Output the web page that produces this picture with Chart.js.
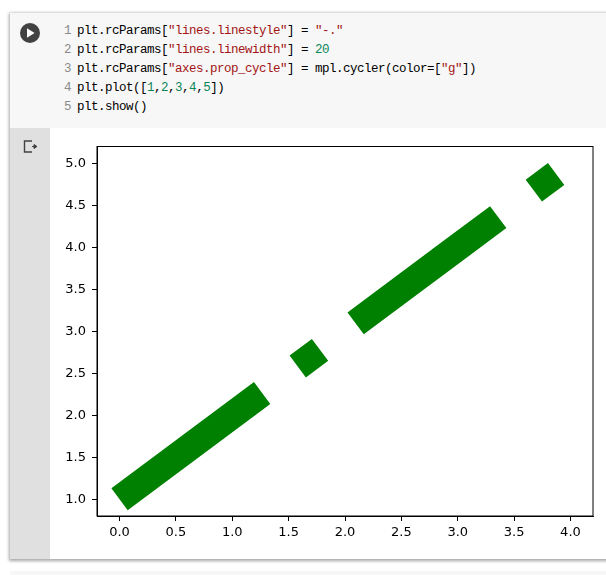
<!DOCTYPE html>
<html>
<head>
<meta charset="utf-8">
<script src="https://cdn.jsdelivr.net/npm/chart.js@4"></script>
<style>
html, body { margin: 0; padding: 0; background: #fff; width: 606px; height: 575px; overflow: hidden; }
#card { position: absolute; left: 10px; top: 13px; width: 620px; height: 546px; background: #fff; box-shadow: 0 1px 3px 1px rgba(0,0,0,.35); }
#code { position: absolute; left: 0; top: 0; width: 100%; height: 115px; background: #f7f7f7; }
#gutter { position: absolute; left: 0; top: 115px; width: 40px; height: 431px; background: #e0e0e0; }
#run { position: absolute; left: 9px; top: 9px; }
#out { position: absolute; left: 13px; top: 11px; }
#lines { position: absolute; left: 0; top: 9px; font: 12.5px/19px "Liberation Mono", monospace; letter-spacing: -0.5px; color: #000; white-space: pre; }
.row { position: absolute; left: 67px; height: 19px; }
.n { position: absolute; left: -13px; color: #8a8a8a; }
.s { color: #a31515; }
.d { color: #098658; }
#next { position: absolute; left: 10px; top: 571px; width: 620px; height: 10px; background: #f7f7f7; }
#wrap { position: absolute; left: 50px; top: 128px; width: 556px; height: 431px; }
</style>
</head>
<body>
<div id="card">
  <div id="code">
    <svg id="run" width="22" height="22" viewBox="0 0 22 22">
      <circle cx="11" cy="11" r="10" fill="#424242"/>
      <path d="M8 6.2 L15.6 11 L8 15.8 Z" fill="#fff"/>
    </svg>
    <div id="lines"></div>
  </div>
  <div id="gutter">
    <svg id="out" width="16" height="16" viewBox="0 0 16 16">
      <path d="M9 2 H1.5 V13 H9" fill="none" stroke="#424242" stroke-width="1.4"/>
      <path d="M9 7.5 H12 M11 5.5 L14 7.5 L11 9.5 Z" fill="#424242" stroke="#424242" stroke-width="1"/>
    </svg>
  </div>
</div>
<div id="next"></div>
<div id="wrap"><canvas id="chart" width="556" height="431"></canvas></div>

<script>
// values passed to plt.plot, x is just the index
const xValues = [0, 1, 2, 3, 4];
const yValues = [1, 2, 3, 4, 5];
const xTicks = [0, 0.5, 1, 1.5, 2, 2.5, 3, 3.5, 4];
const yTicks = [1, 1.5, 2, 2.5, 3, 3.5, 4, 4.5, 5];

// notebook cell source, s = string, d = number, plain otherwise
const codeLines = [
    [['p', 'plt.rcParams['], ['s', '"lines.linestyle"'], ['p', '] = '], ['s', '"-."']],
    [['p', 'plt.rcParams['], ['s', '"lines.linewidth"'], ['p', '] = '], ['d', '20']],
    [['p', 'plt.rcParams['], ['s', '"axes.prop_cycle"'], ['p', '] = mpl.cycler(color=['], ['s', '"g"'], ['p', '])']],
    [['p', 'plt.plot(['], ['d', '1'], ['p', ','], ['d', '2'], ['p', ','], ['d', '3'], ['p', ','], ['d', '4'], ['p', ','], ['d', '5'], ['p', '])']],
    [['p', 'plt.show()']]
];

const linesEl = document.getElementById('lines');
codeLines.forEach((parts, i) => {
    const row = document.createElement('div');
    row.className = 'row';
    row.style.top = (i * 19) + 'px';
    const num = document.createElement('span');
    num.className = 'n';
    num.textContent = String(i + 1);
    row.appendChild(num);
    parts.forEach(([kind, text]) => {
        const span = document.createElement('span');
        span.className = kind;
        span.textContent = text;
        row.appendChild(span);
    });
    linesEl.appendChild(row);
});

// matplotlib draws a full box round the axes
const axesBox = {
    id: 'axesBox',
    afterDatasetsDraw(chart) {
        const { ctx, chartArea: a } = chart;
        ctx.save();
        ctx.strokeStyle = '#000';
        ctx.lineWidth = 1;
        ctx.strokeRect(a.left, a.top, a.right - a.left, a.bottom - a.top);
        ctx.restore();
    }
};

const tickFont = { family: '"DejaVu Sans"', size: 13 };

new Chart(document.getElementById('chart').getContext('2d'), {
    type: 'line',
    data: {
        datasets: [{
            data: xValues.map((x, i) => ({ x: x, y: yValues[i] })),
            borderColor: '#008000',
            borderWidth: 27.3,
            borderDash: [177.8, 44.4, 27.8, 44.4],
            borderCapStyle: 'butt',
            pointRadius: 0,
            tension: 0
        }]
    },
    options: {
        responsive: false,
        animation: false,
        layout: { autoPadding: false, padding: { top: 18.5, right: 13, bottom: 0, left: 0 } },
        plugins: { legend: { display: false }, tooltip: { enabled: false } },
        scales: {
            x: {
                type: 'linear',
                min: -0.2,
                max: 4.2,
                afterBuildTicks: axis => { axis.ticks = xTicks.map(v => ({ value: v })); },
                afterFit: axis => { axis.height = 43; },
                grid: { drawOnChartArea: false, tickLength: 5, tickColor: '#000', tickWidth: 1 },
                border: { color: '#000', width: 1 },
                ticks: { color: '#000', font: tickFont, padding: 4, maxRotation: 0, autoSkip: false, callback: v => v.toFixed(1) }
            },
            y: {
                type: 'linear',
                min: 0.8,
                max: 5.2,
                afterBuildTicks: axis => { axis.ticks = yTicks.map(v => ({ value: v })); },
                afterFit: axis => { axis.width = 47; },
                grid: { drawOnChartArea: false, tickLength: 5, tickColor: '#000', tickWidth: 1 },
                border: { color: '#000', width: 1 },
                ticks: { color: '#000', font: tickFont, padding: 6, autoSkip: false, callback: v => v.toFixed(1) }
            }
        }
    },
    plugins: [axesBox]
});
</script>
</body>
</html>
